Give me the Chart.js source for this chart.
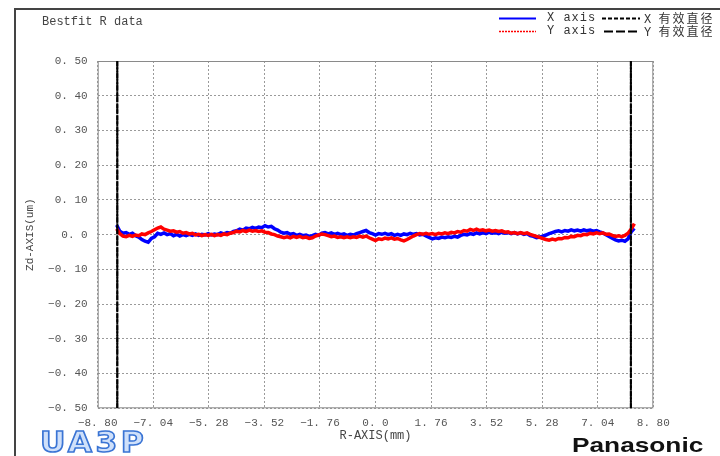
<!DOCTYPE html>
<html>
<head>
<meta charset="utf-8">
<script src="https://cdn.jsdelivr.net/npm/chart.js@4.4.0/dist/chart.umd.min.js"></script>
<style>
  html, body { margin: 0; padding: 0; background: #fff; }
  #wrap { position: relative; width: 720px; height: 456px; overflow: hidden; }
  #c { position: absolute; left: 0; top: 0; }
  .frameL { position: absolute; left: 14px; top: 8px; width: 2px; height: 460px; background: #444; }
  .frameT { position: absolute; left: 14px; top: 8px; width: 720px; height: 2px; background: #444; }
  .txt { position: absolute; font-family: "Liberation Mono", monospace; font-size: 12px; color: #333; white-space: nowrap; line-height: 14px; }
  .cjk { font-family: "Noto Sans CJK SC", sans-serif; letter-spacing: 2px; }
  #legendSvg { position: absolute; left: 0; top: 0; pointer-events: none; }
  #ua3p { position: absolute; left: 40px; top: 428px; font-family: "DejaVu Sans", sans-serif; font-weight: bold; font-size: 28px;
          color: #cfe0fa; -webkit-text-stroke: 1.5px #3a74d4; letter-spacing: 3px; line-height: 30px;
          transform: scaleX(1.12); transform-origin: left top; }
  #pana { position: absolute; left: 572px; top: 434px; font-family: "Liberation Sans", Arial, sans-serif; font-weight: bold;
          font-size: 21px; color: #111; transform: scaleX(1.25); transform-origin: left top; line-height: 22px; }
</style>
</head>
<body>
<div id="wrap">
  <canvas id="c" width="720" height="456"></canvas>
  <div class="frameL"></div>
  <div class="frameT"></div>
  <div class="txt" style="left:42px; top:15px; color:#444;">Bestfit R data</div>

  <svg id="legendSvg" width="720" height="456">
    <line x1="499" y1="18.5" x2="536" y2="18.5" stroke="#0000ff" stroke-width="2"/>
    <line x1="499" y1="31.5" x2="536" y2="31.5" stroke="#ff0000" stroke-width="1.5" stroke-dasharray="2,1"/>
    <line x1="602" y1="18.5" x2="640" y2="18.5" stroke="#000" stroke-width="2" stroke-dasharray="4,2"/>
    <line x1="604" y1="31.5" x2="640" y2="31.5" stroke="#000" stroke-width="2" stroke-dasharray="9,3"/>
  </svg>
  <div class="txt" style="left:547px; top:11px; letter-spacing:1px;">X axis</div>
  <div class="txt" style="left:547px; top:24px; letter-spacing:1px;">Y axis</div>
  <div class="txt" style="left:644px; top:11px;">X <span class="cjk">有效直径</span></div>
  <div class="txt" style="left:644px; top:24px;">Y <span class="cjk">有效直径</span></div>

  <div id="ua3p">UA3P</div>
  <div id="pana">Panasonic</div>
</div>

<script>
// sample positions along R (mm)
const rPositions = [
  -8.2, -8.1, -8.0, -7.9, -7.8, -7.7, -7.6, -7.5, -7.4, -7.3,
  -7.2, -7.1, -7.0, -6.9, -6.8, -6.7, -6.6, -6.5, -6.4, -6.3,
  -6.2, -6.1, -6.0, -5.9, -5.8, -5.7, -5.6, -5.5, -5.4, -5.3,
  -5.2, -5.1, -5.0, -4.9, -4.8, -4.7, -4.6, -4.5, -4.4, -4.3,
  -4.2, -4.1, -4.0, -3.9, -3.8, -3.7, -3.6, -3.5, -3.4, -3.3,
  -3.2, -3.1, -3.0, -2.9, -2.8, -2.7, -2.6, -2.5, -2.4, -2.3,
  -2.2, -2.1, -2.0, -1.9, -1.8, -1.7, -1.6, -1.5, -1.4, -1.3,
  -1.2, -1.1, -1.0, -0.9, -0.8, -0.7, -0.6, -0.5, -0.4, -0.3,
  -0.2, -0.1, 0.0, 0.1, 0.2, 0.3, 0.4, 0.5, 0.6, 0.7,
  0.8, 0.9, 1.0, 1.1, 1.2, 1.3, 1.4, 1.5, 1.6, 1.7,
  1.8, 1.9, 2.0, 2.1, 2.2, 2.3, 2.4, 2.5, 2.6, 2.7,
  2.8, 2.9, 3.0, 3.1, 3.2, 3.3, 3.4, 3.5, 3.6, 3.7,
  3.8, 3.9, 4.0, 4.1, 4.2, 4.3, 4.4, 4.5, 4.6, 4.7,
  4.8, 4.9, 5.0, 5.1, 5.2, 5.3, 5.4, 5.5, 5.6, 5.7,
  5.8, 5.9, 6.0, 6.1, 6.2, 6.3, 6.4, 6.5, 6.6, 6.7,
  6.8, 6.9, 7.0, 7.1, 7.2, 7.3, 7.4, 7.5, 7.6, 7.7,
  7.8, 7.9, 8.0, 8.1, 8.2
];

// Zd (um), X axis scan (blue)
const xAxisZd = [
  0.028, 0.010, 0.004, 0.006, 0.001, 0.004, -0.003, -0.007, -0.014, -0.019,
  -0.022, -0.011, -0.006, 0.004, 0.001, 0.005, 0.000, 0.003, -0.003, 0.001,
  -0.004, 0.000, -0.003, 0.001, -0.002, 0.002, -0.002, 0.001, -0.001, 0.003,
  -0.001, 0.002, 0.000, 0.005, 0.002, 0.006, 0.004, 0.009, 0.011, 0.016,
  0.013, 0.019, 0.017, 0.021, 0.018, 0.022, 0.020, 0.026, 0.022, 0.024,
  0.017, 0.013, 0.007, 0.004, 0.006, 0.001, 0.003, -0.002, 0.001, -0.003,
  -0.001, -0.005, -0.003, 0.001, -0.002, 0.004, 0.006, 0.002, 0.005, 0.001,
  0.004, 0.000, 0.002, -0.002, 0.001, -0.001, 0.003, 0.006, 0.009, 0.012,
  0.006, 0.003, -0.001, 0.003, 0.001, 0.004, 0.000, 0.003, -0.002, 0.001,
  -0.002, 0.002, 0.000, 0.004, 0.001, 0.003, -0.001, 0.001, -0.004, -0.008,
  -0.012, -0.009, -0.011, -0.007, -0.009, -0.006, -0.008, -0.005, -0.007, -0.002,
  0.001, -0.001, 0.003, 0.001, 0.005, 0.002, 0.006, 0.003, 0.007, 0.004,
  0.006, 0.003, 0.007, 0.004, 0.006, 0.003, 0.006, 0.002, 0.005, 0.001,
  0.003, -0.003, -0.005, -0.009, -0.007, -0.004, -0.001, 0.003, 0.006, 0.009,
  0.011, 0.008, 0.012, 0.010, 0.014, 0.011, 0.013, 0.010, 0.014, 0.011,
  0.013, 0.010, 0.012, 0.008, 0.005, 0.000, -0.005, -0.010, -0.015, -0.018,
  -0.016, -0.019, -0.012, 0.008, 0.018
];

// Zd (um), Y axis scan (red)
const yAxisZd = [
  0.017, 0.003, -0.004, -0.006, -0.002, -0.005, -0.001, -0.003, 0.002, 0.000,
  0.005, 0.009, 0.014, 0.019, 0.022, 0.016, 0.013, 0.010, 0.011, 0.007,
  0.009, 0.004, 0.006, 0.002, 0.004, -0.001, 0.001, -0.003, 0.000, -0.002,
  0.001, -0.003, 0.000, -0.002, 0.002, 0.000, 0.004, 0.006, 0.010, 0.008,
  0.012, 0.009, 0.013, 0.010, 0.012, 0.009, 0.011, 0.007, 0.006, 0.002,
  0.000, -0.004, -0.006, -0.009, -0.006, -0.009, -0.005, -0.008, -0.005, -0.009,
  -0.007, -0.011, -0.009, -0.004, -0.001, 0.002, 0.000, -0.003, -0.006, -0.004,
  -0.008, -0.006, -0.009, -0.006, -0.009, -0.006, -0.008, -0.004, -0.007, -0.004,
  -0.009, -0.013, -0.017, -0.012, -0.014, -0.010, -0.012, -0.009, -0.013, -0.011,
  -0.015, -0.018, -0.014, -0.009, -0.004, 0.000, 0.003, 0.001, 0.004, 0.001,
  0.003, 0.000, 0.004, 0.002, 0.005, 0.003, 0.007, 0.005, 0.009, 0.007,
  0.012, 0.010, 0.015, 0.012, 0.016, 0.012, 0.014, 0.011, 0.013, 0.010,
  0.012, 0.009, 0.011, 0.007, 0.008, 0.004, 0.006, 0.003, 0.006, 0.003,
  0.005, 0.001, -0.002, -0.005, -0.008, -0.011, -0.014, -0.016, -0.013, -0.015,
  -0.011, -0.012, -0.008, -0.009, -0.005, -0.006, -0.002, -0.003, 0.001, 0.000,
  0.004, 0.002, 0.005, 0.003, 0.005, 0.001, 0.002, -0.002, -0.005, -0.003,
  -0.006, -0.002, 0.004, 0.016, 0.032
];

// effective diameter limits (mm)
const xEffDia = [-8.18, 8.09];
const yEffDia = [-8.18, 8.09];

const xTickValues = [-8.8, -7.04, -5.28, -3.52, -1.76, 0, 1.76, 3.52, 5.28, 7.04, 8.8];
const xTickLabels = ['−8. 80', '−7. 04', '−5. 28', '−3. 52', '−1. 76', '0. 0', '1. 76', '3. 52', '5. 28', '7. 04', '8. 80'];
const yTickValues = [-0.5, -0.4, -0.3, -0.2, -0.1, 0, 0.1, 0.2, 0.3, 0.4, 0.5];
const yTickLabels = ['−0. 50', '−0. 40', '−0. 30', '−0. 20', '−0. 10', '0. 0', '0. 10', '0. 20', '0. 30', '0. 40', '0. 50'];

const tickFont = { family: 'Liberation Mono', size: 11 };

// vertical limit lines: bottom->top at each position, gap in between
const limitLine = (pos) => [
  { x: pos[0], y: -0.5 }, { x: pos[0], y: 0.5 },
  { x: 0, y: null },
  { x: pos[1], y: -0.5 }, { x: pos[1], y: 0.5 }
];

const plotFrame = {
  id: 'plotFrame',
  beforeDatasetsDraw(chart) {
    const { ctx, chartArea: a } = chart;
    ctx.save();
    ctx.strokeStyle = '#8a8a8a';
    ctx.lineWidth = 1;
    ctx.strokeRect(a.left + 0.5, a.top + 0.5, a.width - 1, a.height - 1);
    ctx.restore();
  }
};

new Chart(document.getElementById('c'), {
  type: 'line',
  data: {
    datasets: [
      {
        label: 'Y axis',
        data: rPositions.map((r, i) => ({ x: r, y: yAxisZd[i] })),
        borderColor: '#ff0000',
        borderWidth: 3.5,
        order: 1
      },
      {
        label: 'X axis',
        data: rPositions.map((r, i) => ({ x: r, y: xAxisZd[i] })),
        borderColor: '#0000ff',
        borderWidth: 3.5,
        order: 2
      },
      {
        label: 'X 有效直径',
        data: limitLine(xEffDia),
        borderColor: '#000',
        borderWidth: 2,
        borderDash: [5, 1],
        spanGaps: false,
        order: 0
      },
      {
        label: 'Y 有效直径',
        data: limitLine(yEffDia),
        borderColor: '#111',
        borderWidth: 2,
        borderDash: [9, 2],
        borderDashOffset: 2,
        spanGaps: false,
        order: 0
      }
    ]
  },
  options: {
    responsive: false,
    animation: false,
    layout: { padding: { left: 0, top: 61, right: 66.7, bottom: 7.7 } },
    elements: { point: { radius: 0 }, line: { tension: 0 } },
    plugins: { legend: { display: false }, tooltip: { enabled: false } },
    scales: {
      x: {
        type: 'linear',
        min: -8.8,
        max: 8.8,
        afterBuildTicks: (s) => { s.ticks = xTickValues.map(v => ({ value: v })); },
        afterFit: (s) => { s.height = 40; },
        ticks: {
          font: tickFont,
          color: '#555',
          padding: 8,
          maxRotation: 0,
          autoSkip: false,
          callback: (v, i) => xTickLabels[i]
        },
        grid: { color: '#9a9a9a', drawTicks: false },
        border: { display: false, dash: [2, 2] },
        title: {
          display: true,
          text: 'R-AXIS(mm)',
          font: { family: 'Liberation Mono', size: 12 },
          color: '#444',
          padding: { top: 0, bottom: 5 }
        }
      },
      y: {
        type: 'linear',
        min: -0.5,
        max: 0.5,
        afterBuildTicks: (s) => { s.ticks = yTickValues.map(v => ({ value: v })); },
        afterFit: (s) => { s.width = 97.7; },
        ticks: {
          font: tickFont,
          color: '#555',
          padding: 10,
          autoSkip: false,
          callback: (v, i) => yTickLabels[i]
        },
        grid: { color: '#9a9a9a', drawTicks: false },
        border: { display: false, dash: [2, 2] },
        title: {
          display: true,
          text: 'Zd-AXIS(um)',
          font: { family: 'Liberation Mono', size: 11 },
          color: '#444',
          padding: { top: 23, bottom: 0 }
        }
      }
    }
  },
  plugins: [plotFrame]
});
</script>
</body>
</html>
